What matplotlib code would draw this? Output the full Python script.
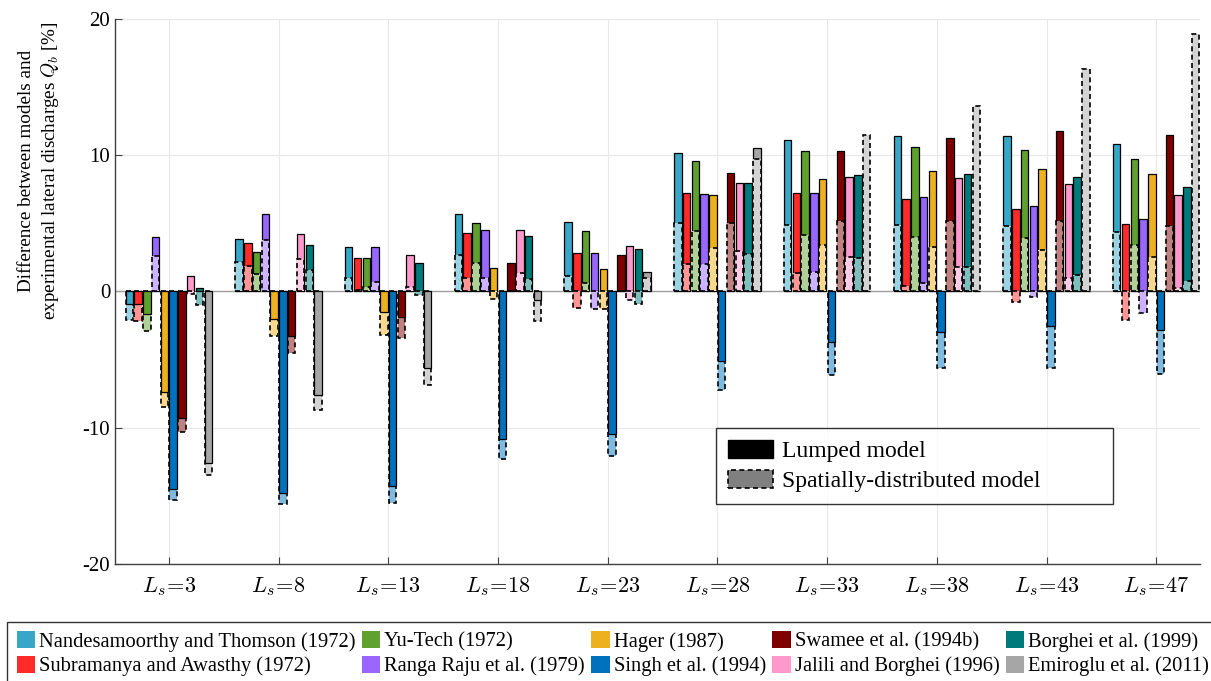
import numpy as np
import matplotlib
matplotlib.use("Agg")
import matplotlib.pyplot as plt
from matplotlib.patches import Patch
from matplotlib.colors import to_rgb

plt.rcParams["font.family"] = ["Liberation Serif", "DejaVu Serif"]
plt.rcParams["mathtext.fontset"] = "cm"
plt.rcParams["axes.unicode_minus"] = False

# Channel lengths (groups)
lengths = [3, 8, 13, 18, 23, 28, 33, 38, 43, 47]
tick_labels = [r"$L_s\!=\!%d$" % v for v in lengths]

models = [
    "Nandesamoorthy and Thomson (1972)",
    "Subramanya and Awasthy (1972)",
    "Yu-Tech (1972)",
    "Ranga Raju et al. (1979)",
    "Hager (1987)",
    "Singh et al. (1994)",
    "Swamee et al. (1994b)",
    "Jalili and Borghei (1996)",
    "Borghei et al. (1999)",
    "Emiroglu et al. (2011)",
]

colors = ["#38A6C6", "#FF2A2A", "#5FA12E", "#9966FF", "#EDB01E",
          "#0072BD", "#7F0000", "#FF99CC", "#007A7A", "#A6A6A6"]

# Difference [%] per model (rows) and channel length (columns): lumped model
lumped = [
    [-0.9, 3.85, 3.3, 5.7, 5.1, 10.2, 11.1, 11.4, 11.4, 10.8],    # Nandesamoorthy
    [-0.9, 3.56, 2.46, 4.27, 2.85, 7.2, 7.24, 6.8, 6.07, 4.95],   # Subramanya
    [-1.66, 2.9, 2.46, 5.0, 4.44, 9.56, 10.3, 10.6, 10.4, 9.73],  # Yu-Tech
    [4.0, 5.7, 3.3, 4.5, 2.85, 7.12, 7.24, 6.9, 6.27, 5.3],       # Ranga Raju
    [-7.4, -2.0, -1.5, 1.7, 1.63, 7.07, 8.27, 8.83, 9.0, 8.6],    # Hager
    [-14.5, -14.8, -14.3, -10.8, -10.5, -5.1, -3.73, -2.95, -2.56, -2.85],  # Singh
    [-9.3, -3.3, -1.9, 2.07, 2.66, 8.7, 10.3, 11.27, 11.8, 11.5],  # Swamee
    [1.1, 4.2, 2.7, 4.5, 3.37, 8.0, 8.4, 8.32, 7.9, 7.05],         # Jalili
    [0.22, 3.4, 2.1, 4.1, 3.15, 7.97, 8.56, 8.66, 8.4, 7.68],      # Borghei
    [-12.6, -7.6, -5.6, -0.66, 1.44, 10.5, 0.0, 0.0, 0.0, 0.0],    # Emiroglu
]

# Difference [%]: spatially-distributed model
distributed = [
    [-2.1, 2.2, 1.0, 2.66, 1.15, 5.0, 4.9, 4.85, 4.8, 4.4],
    [-2.2, 1.9, 0.1, 0.98, -1.24, 2.0, 1.34, 0.41, -0.76, -2.07],
    [-2.9, 1.3, 0.3, 2.07, 0.6, 4.44, 4.17, 4.0, 3.93, 3.44],
    [2.6, 3.8, 0.66, 1.0, -1.3, 2.0, 1.46, 0.6, -0.37, -1.6],
    [-8.5, -3.3, -3.2, -0.56, -1.3, 3.2, 3.44, 3.24, 3.05, 2.56],
    [-15.3, -15.6, -15.5, -12.3, -12.1, -7.2, -6.1, -5.63, -5.6, -6.07],
    [-10.3, -4.5, -3.4, 0.05, 0.05, 5.0, 5.2, 5.15, 5.15, 4.8],
    [-0.2, 2.4, 0.3, 1.34, -0.6, 2.95, 2.5, 1.78, 1.0, 0.27],
    [-1.0, 1.6, -0.27, 0.9, -0.9, 2.76, 2.46, 1.83, 1.2, 0.8],
    [-13.5, -8.7, -6.9, -2.2, 1.0, 9.7, 11.5, 13.6, 16.3, 18.9],
]


def lighten(c, f=0.5):
    r = np.array(to_rgb(c))
    return tuple(r + (1 - r) * f)


fig = plt.figure(figsize=(12.11, 6.81), dpi=100)
ax = fig.add_axes([0.095, 0.172, 0.896, 0.800])

x = np.arange(1, len(lengths) + 1)
pitch = 0.08
width = 0.068
n = len(models)

ax.axhline(0, color="#A0A0A0", lw=1.0, zorder=1)

solid_kw = dict(edgecolor="black", linewidth=0.9)
dash_kw = dict(edgecolor="black", linewidth=1.2, linestyle=(0, (3, 2)))

for i in range(n):
    xi = x + (i - (n - 1) / 2) * pitch
    lv = np.array(lumped[i])
    dv = np.array(distributed[i])
    # the shorter of the two bars is drawn in front
    lump_front = np.abs(lv) <= np.abs(dv)
    for front, z_l, z_d in [(lump_front, 3, 2), (~lump_front, 2, 3)]:
        ax.bar(xi[front], lv[front], width=width, color=colors[i],
               zorder=z_l, **solid_kw)
        ax.bar(xi[front], dv[front], width=width, color=lighten(colors[i]),
               zorder=z_d, **dash_kw)

ax.set_xlim(0.51, 10.4)
ax.set_ylim(-20, 20)
ax.set_xticks(x)
ax.set_xticklabels(tick_labels, fontsize=16)
ax.set_yticks([-20, -10, 0, 10, 20])
ax.tick_params(axis="y", labelsize=15, direction="in", length=5, color="#404040")
ax.tick_params(axis="x", direction="in", length=5, color="#404040", pad=8)
ax.grid(True, color="#E8E8E8", lw=0.8, zorder=0)
ax.set_axisbelow(True)
for s in ["top", "right"]:
    ax.spines[s].set_visible(False)
for s in ["left", "bottom"]:
    ax.spines[s].set_color("#404040")
    ax.spines[s].set_linewidth(1.0)

ax.set_ylabel("Difference between models and\nexperimental lateral discharges $Q_b$ [%]",
              fontsize=13.8, linespacing=1.25)
ax.yaxis.set_label_coords(-0.050, 0.722)

# Legend for model type (inside axes)
type_handles = [
    Patch(facecolor="black", edgecolor="black", linewidth=1.0),
    Patch(facecolor="#808080", edgecolor="black", linewidth=1.2, linestyle=(0, (3, 2))),
]
leg1 = ax.legend(type_handles, ["Lumped model", "Spatially-distributed model"],
                 loc="upper left", bbox_to_anchor=(0.554, 0.10, 0.366, 0.1495),
                 mode="expand", fontsize=17,
                 frameon=True, fancybox=False, edgecolor="black",
                 handlelength=1.9, handleheight=0.8, handletextpad=0.4,
                 borderpad=0.5, labelspacing=0.35, borderaxespad=0)
leg1.get_frame().set_linewidth(1.0)

# Legend for the models (below the axes)
model_handles = [Patch(facecolor=c, edgecolor="none") for c in colors]
leg2 = fig.legend(model_handles, models, ncol=5, loc="upper left",
                  bbox_to_anchor=(0.006, 0.087), fontsize=14.8,
                  frameon=True, fancybox=False, edgecolor="black",
                  handlelength=0.9, handleheight=0.9, handletextpad=0.2,
                  columnspacing=0.3, borderpad=0.45, labelspacing=0.2,
                  borderaxespad=0)
leg2.get_frame().set_linewidth(1.0)

fig.savefig("out.png", dpi=100)
